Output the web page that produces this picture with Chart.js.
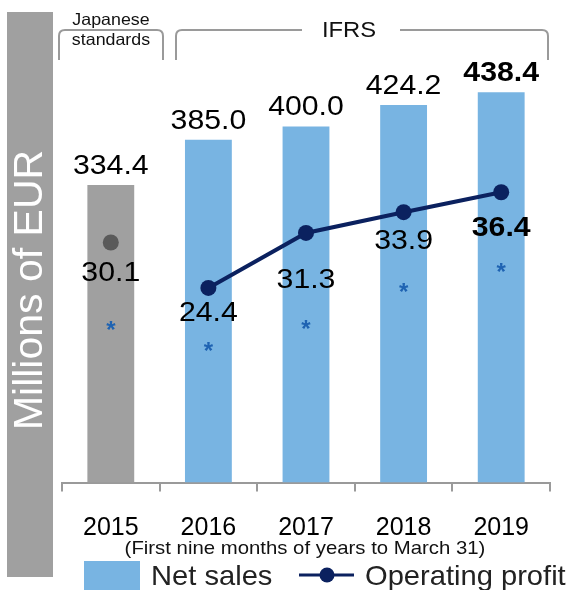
<!DOCTYPE html>
<html>
<head>
<meta charset="utf-8">
<script src="https://cdn.jsdelivr.net/npm/chart.js@4/dist/chart.umd.min.js"></script>
<style>
html,body{margin:0;padding:0;background:#fff;}
#c{display:block;}
</style>
</head>
<body>
<canvas id="c" width="571" height="590"></canvas>
<script>
const years = ['2015', '2016', '2017', '2018', '2019'];
const netSales = [334.4, 385.0, 400.0, 424.2, 438.4];
const operatingProfit = [30.1, 24.4, 31.3, 33.9, 36.4];
const netSalesLabels = ['334.4', '385.0', '400.0', '424.2', '438.4'];
const profitLabels = ['30.1', '24.4', '31.3', '33.9', '36.4'];
const standards = ['Japanese standards', 'IFRS', 'IFRS', 'IFRS', 'IFRS'];
const subtitle = '(First nine months of years to March 31)';
const axisTitle = 'Millions of EUR';

const FONT = '"Liberation Sans", Arial, sans-serif';
const BLUE = '#78b4e2';
const GREY = '#a0a0a0';
const NAVY = '#0b215f';
const AXIS = '#9a9a9a';
const SX = 1.08;

const barColors = standards.map(s => s === 'IFRS' ? BLUE : GREY);
const pointColors = standards.map(s => s === 'IFRS' ? NAVY : '#5a5a5a');

function stretchText(ctx, text, x, y, sx) {
  ctx.save();
  ctx.translate(x, y);
  ctx.scale(sx, 1);
  ctx.fillText(text, 0, 0);
  ctx.restore();
}

const decor = {
  id: 'decor',
  beforeDraw(chart) {
    const ctx = chart.ctx;
    ctx.save();
    ctx.fillStyle = GREY;
    ctx.fillRect(7, 12, 46, 565);
    ctx.translate(31, 290);
    ctx.rotate(-Math.PI / 2);
    ctx.fillStyle = '#fff';
    ctx.font = '41px ' + FONT;
    ctx.textAlign = 'center';
    ctx.textBaseline = 'middle';
    ctx.fillText(axisTitle, 0, 0);
    ctx.restore();

    ctx.save();
    ctx.strokeStyle = AXIS;
    ctx.lineWidth = 2;
    const r = 6;
    function bracket(x0, x1, y0, y1, gap) {
      ctx.beginPath();
      ctx.moveTo(x0, y1);
      ctx.lineTo(x0, y0 + r);
      ctx.quadraticCurveTo(x0, y0, x0 + r, y0);
      if (gap) {
        ctx.lineTo(gap[0], y0);
        ctx.moveTo(gap[1], y0);
      }
      ctx.lineTo(x1 - r, y0);
      ctx.quadraticCurveTo(x1, y0, x1, y0 + r);
      ctx.lineTo(x1, y1);
      ctx.stroke();
    }
    bracket(59, 163, 30, 60, null);
    bracket(176, 548, 30, 60, [302, 400]);
    ctx.fillStyle = '#111';
    ctx.textAlign = 'center';
    ctx.textBaseline = 'alphabetic';
    ctx.font = '16.5px ' + FONT;
    stretchText(ctx, 'Japanese', 111, 25, SX);
    stretchText(ctx, 'standards', 111, 45, SX);
    ctx.font = '22px ' + FONT;
    stretchText(ctx, 'IFRS', 349, 37, SX);
    ctx.restore();
  },
  afterDatasetsDraw(chart) {
    const ctx = chart.ctx;
    ctx.save();
    ctx.textAlign = 'center';
    ctx.textBaseline = 'middle';
    const bars = chart.getDatasetMeta(0).data;
    bars.forEach((b, i) => {
      ctx.font = (i === 4 ? 'bold ' : '') + '28px ' + FONT;
      ctx.fillStyle = '#000';
      stretchText(ctx, netSalesLabels[i], b.x, b.y - 19, SX);
    });
    const pts = chart.getDatasetMeta(1).data;
    const lblOff = [31, 25, 47, 29, 36];
    const astOff = [85, 60, 93, 77, 77];
    pts.forEach((p, i) => {
      ctx.font = (i === 4 ? 'bold ' : '') + '28px ' + FONT;
      ctx.fillStyle = '#000';
      stretchText(ctx, profitLabels[i], p.x, p.y + lblOff[i], SX);
      ctx.font = 'bold 24px ' + FONT;
      ctx.fillStyle = '#1f63b2';
      ctx.fillText('*', p.x, p.y + astOff[i] + 4);
    });

    const xs = chart.scales.x;
    ctx.textBaseline = 'alphabetic';
    ctx.font = '18.5px ' + FONT;
    ctx.fillStyle = '#111';
    stretchText(ctx, subtitle, (xs.left + xs.right) / 2 - 1, 554, 1.1);

    // legend
    ctx.fillStyle = BLUE;
    ctx.fillRect(84, 561, 56, 29);
    ctx.fillStyle = '#222';
    ctx.textAlign = 'left';
    ctx.font = '28px ' + FONT;
    stretchText(ctx, 'Net sales', 151, 585, 1.04);
    ctx.strokeStyle = NAVY;
    ctx.lineWidth = 3;
    ctx.beginPath();
    ctx.moveTo(299, 575);
    ctx.lineTo(354, 575);
    ctx.stroke();
    ctx.fillStyle = NAVY;
    ctx.beginPath();
    ctx.arc(327, 575, 7.5, 0, Math.PI * 2);
    ctx.fill();
    ctx.fillStyle = '#222';
    stretchText(ctx, 'Operating profit', 365, 585, 1.04);
    ctx.restore();
  }
};

new Chart(document.getElementById('c'), {
  data: {
    labels: years,
    datasets: [
      {
        type: 'bar',
        label: 'Net sales',
        data: netSales,
        backgroundColor: barColors,
        barPercentage: 0.48,
        categoryPercentage: 1,
        yAxisID: 'y',
        order: 2
      },
      {
        type: 'line',
        label: 'Operating profit',
        data: operatingProfit,
        borderColor: NAVY,
        borderWidth: 4,
        pointRadius: 8,
        pointHoverRadius: 8,
        pointBackgroundColor: pointColors,
        pointBorderColor: pointColors,
        pointBorderWidth: 0,
        segment: {
          borderColor: c => standards[c.p0DataIndex] !== standards[c.p1DataIndex] ? 'rgba(0,0,0,0)' : NAVY
        },
        yAxisID: 'y2',
        order: 1
      }
    ]
  },
  options: {
    responsive: false,
    animation: false,
    events: [],
    layout: { padding: { left: 62, right: 21, top: 37.5, bottom: 24.5 } },
    plugins: { legend: { display: false }, tooltip: { enabled: false } },
    scales: {
      x: {
        offset: true,
        grid: { display: true, drawOnChartArea: false, offset: true, tickLength: 9, color: AXIS, lineWidth: 2 },
        border: { display: true, color: AXIS, width: 2 },
        ticks: { color: '#000', font: { family: FONT, size: 25 }, padding: 22, maxRotation: 0 }
      },
      y: { display: false, min: 0, max: 500 },
      y2: { display: false, min: 0, max: 500 * 0.893 / 8 }
    }
  },
  plugins: [decor]
});
</script>
</body>
</html>
